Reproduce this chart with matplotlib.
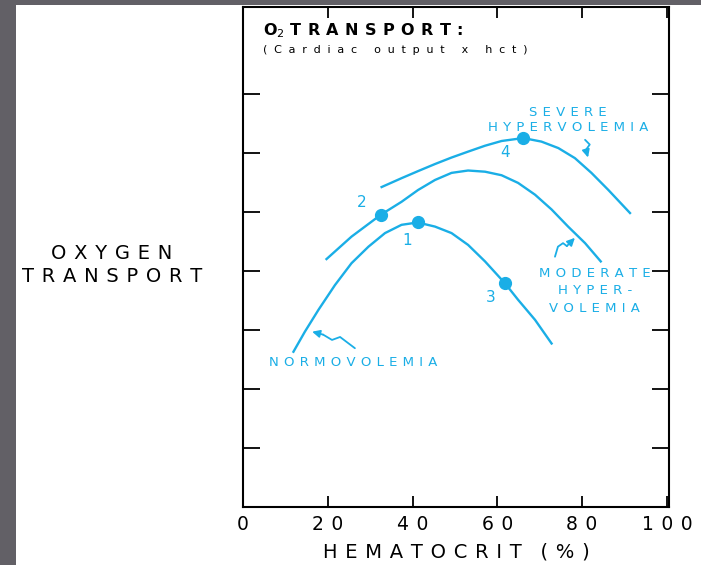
"""
Oxygen transport vs hematocrit for three blood-volume states.
"""

import matplotlib
matplotlib.use('Agg')
import matplotlib.pyplot as plt

CYAN = '#1aaee6'

# hematocrit (%) and relative O2 transport
normo_hct = [11.9, 14.6, 17.8, 21.7, 25.6, 29.6, 33.5, 37.4, 41.2, 45.3,
             49.2, 53.1, 57.1, 61.8, 64.9, 68.9, 72.8]
normo_o2 = [2.63, 2.97, 3.34, 3.76, 4.13, 4.41, 4.64, 4.78, 4.82, 4.75,
            4.64, 4.44, 4.16, 3.79, 3.51, 3.17, 2.77]

moderate_hct = [19.7, 25.6, 32.5, 37.4, 41.3, 45.3, 49.2, 53.1, 57.1, 61.0,
                64.9, 68.9, 72.8, 76.7, 80.7, 84.4]
moderate_o2 = [4.20, 4.58, 4.95, 5.17, 5.37, 5.54, 5.66, 5.70, 5.68, 5.62,
               5.49, 5.29, 5.04, 4.75, 4.47, 4.16]

severe_hct = [32.7, 37.4, 41.3, 45.3, 49.2, 53.1, 57.1, 61.0, 66.1, 70.4,
              74.4, 78.3, 82.2, 86.2, 91.3]
severe_o2 = [5.42, 5.57, 5.69, 5.81, 5.92, 6.02, 6.12, 6.20, 6.25, 6.19,
             6.08, 5.91, 5.66, 5.37, 4.98]

# numbered operating points
point_ids = ['1', '2', '3', '4']
point_hct = [41.2, 32.5, 61.8, 66.1]
point_o2 = [4.82, 4.95, 3.79, 6.25]

xticks = [0, 20, 40, 60, 80, 100]
yticks = [1, 2, 3, 4, 5, 6, 7]


def spaced(s, n=2):
    # letter spacing with thin spaces
    return ('\u2009' * n).join(s)


def squiggle(ax, xs, ys):
    ax.plot(xs[:-1], ys[:-1], color=CYAN, lw=1.3, solid_capstyle='round',
            solid_joinstyle='round')
    ax.annotate('', xy=(xs[-1], ys[-1]), xytext=(xs[-2], ys[-2]),
                arrowprops=dict(arrowstyle='-|>,head_length=0.45,head_width=0.22',
                                color=CYAN, lw=1.3, shrinkA=0, shrinkB=0))


def main():
    fig = plt.figure(figsize=(7.01, 5.65), dpi=100, facecolor='#626066')
    # white page
    bg = fig.add_axes([16 / 701, 0, 1 - 16 / 701, 1 - 5 / 565])
    bg.set_facecolor('white')
    bg.set_xticks([])
    bg.set_yticks([])
    for s in bg.spines.values():
        s.set_visible(False)

    ax = fig.add_axes([243 / 701, 1 - 507 / 565, (669 - 243) / 701, (507 - 7) / 565])
    ax.set_facecolor('none')
    ax.set_xlim(0, 100.5)
    ax.set_ylim(0, 8.47)

    for xs, ys in [(normo_hct, normo_o2), (moderate_hct, moderate_o2),
                   (severe_hct, severe_o2)]:
        ax.plot(xs, ys, color=CYAN, lw=1.7, solid_joinstyle='round')
    ax.plot(point_hct, point_o2, 'o', color=CYAN, ms=8.5)

    offsets = {'1': (-2.4, -0.30), '2': (-4.4, 0.20), '3': (-3.4, -0.24), '4': (-4.2, -0.25)}
    for pid, hx, oy in zip(point_ids, point_hct, point_o2):
        dx, dy = offsets[pid]
        ax.text(hx + dx, oy + dy, pid, color=CYAN, fontsize=11,
                ha='center', va='center')

    ax.text(76.6, 6.56, spaced('SEVERE') + '\n' + spaced('HYPERVOLEMIA'),
            color=CYAN, fontsize=9.5, ha='center', va='center', linespacing=1.15)
    ax.text(83.0, 3.66, spaced('MODERATE') + '\n' + spaced('HYPER-') + '\n' + spaced('VOLEMIA'),
            color=CYAN, fontsize=9.5, ha='center', va='center', linespacing=1.45)
    ax.text(26.0, 2.44, spaced('NORMOVOLEMIA'), color=CYAN, fontsize=9.5,
            ha='center', va='center')

    squiggle(ax, [26.4, 22.9, 21.0, 18.9, 16.3], [2.69, 2.88, 2.83, 2.92, 2.97])
    squiggle(ax, [73.6, 74.3, 75.5, 76.4, 78.3], [4.24, 4.41, 4.47, 4.42, 4.56])
    squiggle(ax, [80.7, 81.8, 80.9, 81.4], [6.22, 6.14, 6.05, 5.92])

    ax.text(4.8, 8.07, 'O$_2$ ' + spaced('TRANSPORT:'), fontsize=11.5,
            fontweight='bold', ha='left', va='center')
    ax.text(4.8, 7.75, spaced('(Cardiac output x hct)', 3), fontsize=8,
            ha='left', va='center')

    ax.set_xticks(xticks)
    ax.set_xticklabels([spaced(str(t)) for t in xticks], fontsize=13.5)
    ax.set_yticks(yticks)
    ax.set_yticklabels([])
    ax.tick_params(axis='x', direction='in', length=8, width=1.3, pad=6,
                   top=True, bottom=True)
    ax.tick_params(axis='y', direction='in', length=12, width=1.3,
                   left=True, right=True)
    for s in ax.spines.values():
        s.set_linewidth(1.5)

    ax.set_xlabel(spaced('HEMATOCRIT') + '   ' + spaced('(%)'), fontsize=14, labelpad=6)
    fig.text(112 / 701, 1 - 265 / 565, spaced('OXYGEN') + '\n' + spaced('TRANSPORT'),
             fontsize=14, ha='center', va='center', linespacing=1.25)

    plt.savefig('out.png', dpi=100, facecolor=fig.get_facecolor())


if __name__ == "__main__":
    main()
